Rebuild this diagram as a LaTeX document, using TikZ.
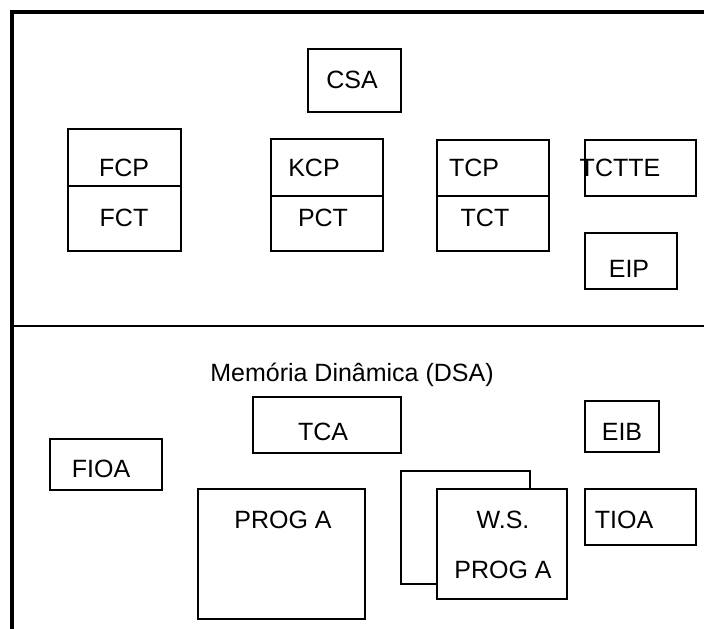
\documentclass[tikz,border=0pt]{standalone}
\usepackage{fontspec}
\setmainfont{Liberation Sans}
\begin{document}
\begin{tikzpicture}[x=1pt,y=-1pt,
  box/.style={draw, line width=2pt, rectangle, inner sep=0pt, anchor=north west, fill=white},
  lbl/.style={inner sep=0pt, anchor=base, font=\fontsize{25}{30}\selectfont}]
\useasboundingbox (0,0) rectangle (704,629);
% frame
\coordinate (fbl) at (12,629);
\coordinate (ftl) at (12,12);
\coordinate (ftr) at (704,12);
\coordinate (dl) at (12,326);
\coordinate (dr) at (704,326);
\draw[line width=4.5pt] (fbl) -- (ftl) -- (ftr);
\draw[line width=2pt] (dl) -- (dr);
% top section
\node[box, minimum width=93pt, minimum height=63pt] (csa) at (307,48) {};
\node[box, minimum width=113pt, minimum height=57pt] (fcp) at (67,128) {};
\node[box, minimum width=113pt, minimum height=65pt] (fct) at (67,185) {};
\node[box, minimum width=112pt, minimum height=57pt] (kcp) at (270,138) {};
\node[box, minimum width=112pt, minimum height=55pt] (pct) at (270,195) {};
\node[box, minimum width=112pt, minimum height=56pt] (tcp) at (436,139) {};
\node[box, minimum width=112pt, minimum height=55pt] (tct) at (436,195) {};
\node[box, minimum width=111pt, minimum height=56pt] (tctte) at (584,139) {};
\node[box, minimum width=92pt, minimum height=56pt] (eip) at (584,232) {};
\node[lbl] (tcsa) at (352,88) {CSA};
\node[lbl] (tfcp) at (124,176) {FCP};
\node[lbl] (tfct) at (124,226) {FCT};
\node[lbl] (tkcp) at (314,176) {KCP};
\node[lbl] (tpct) at (323,226) {PCT};
\node[lbl] (ttcp) at (474,176) {TCP};
\node[lbl] (ttct) at (485,226) {TCT};
\node[lbl] (ttctte) at (620,176) {TCTTE};
\node[lbl] (teip) at (629,277) {EIP};
% bottom section
\node[lbl] (tdsa) at (352,381) {Memória Dinâmica (DSA)};
\node[box, minimum width=148pt, minimum height=56pt] (tca) at (252,396) {};
\node[box, minimum width=112pt, minimum height=51pt] (fioa) at (49,438) {};
\node[box, minimum width=74pt, minimum height=51pt] (eib) at (584,400) {};
\node[box, minimum width=167pt, minimum height=130pt] (proga) at (197,488) {};
\node[box, minimum width=129pt, minimum height=113pt] (wsback) at (400,470) {};
\node[box, minimum width=130pt, minimum height=110pt] (ws) at (436,488) {};
\node[box, minimum width=111pt, minimum height=56pt] (tioa) at (584,488) {};
\node[lbl] (ttca) at (323,440) {TCA};
\node[lbl] (tfioa) at (101,477) {FIOA};
\node[lbl] (teib) at (622,440) {EIB};
\node[lbl] (tproga) at (283,528) {PROG A};
\node[lbl] (tws) at (503,528) {W.S.};
\node[lbl] (twsprog) at (503,578) {PROG A};
\node[lbl] (ttioa) at (624,528) {TIOA};
\end{tikzpicture}
\end{document}
